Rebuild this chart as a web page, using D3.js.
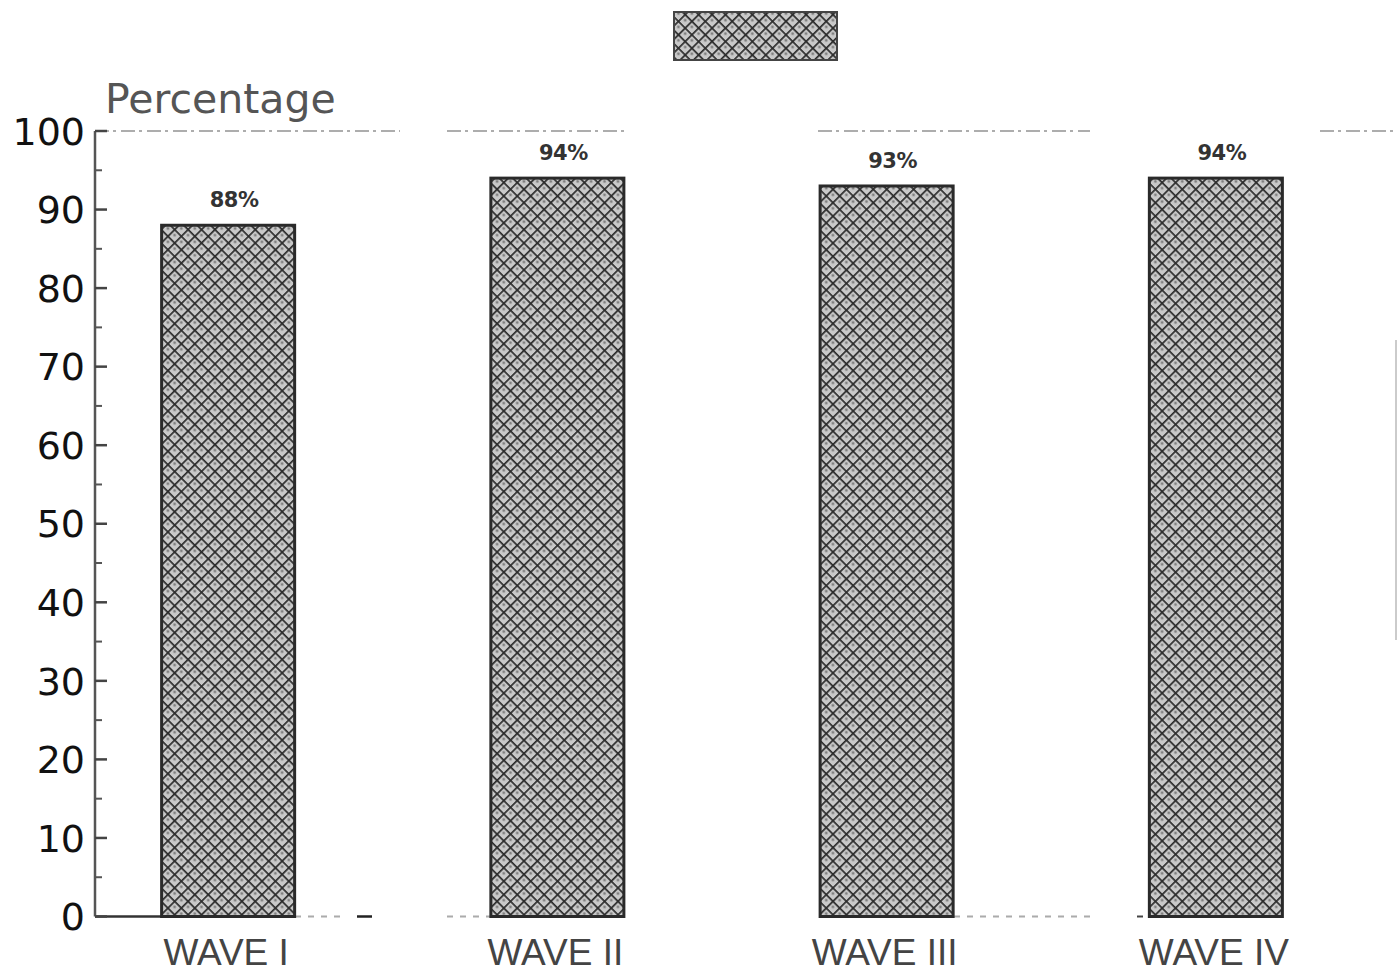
<!DOCTYPE html>
<html>
<head>
<meta charset="utf-8">
<script src="https://cdn.jsdelivr.net/npm/d3@7"></script>
<style>
  html, body { margin: 0; padding: 0; background: #fff; }
  svg { display: block; }
</style>
</head>
<body>
<svg id="chart" width="1398" height="975"></svg>
<script>
// Share of respondents per survey wave
const waves = ["WAVE I", "WAVE II", "WAVE III", "WAVE IV"];
const percents = [88, 94, 93, 94];
const valueLabels = ["88%", "94%", "93%", "94%"];
const yMajorTicks = [0, 10, 20, 30, 40, 50, 60, 70, 80, 90, 100];
const yMinorTicks = [5, 15, 25, 35, 45, 55, 65, 75, 85, 95];

const svg = d3.select("#chart");

const axisX = 95;
const y = d3.scaleLinear().domain([0, 100]).range([916.5, 131]);
const x = d3.scaleBand()
  .domain(waves)
  .range([63.5, 1380.5])
  .paddingInner(0.596)
  .paddingOuter(0.298);

// Cross-hatched fill used by the bars and the legend key
const defs = svg.append("defs");
const pat = defs.append("pattern")
  .attr("id", "hatch")
  .attr("patternUnits", "userSpaceOnUse")
  .attr("width", 9.5).attr("height", 9.5)
  .attr("patternTransform", "rotate(45)");
pat.append("rect").attr("width", 9.5).attr("height", 9.5).attr("fill", "#c9c9c9");
pat.append("circle").attr("cx", 4.75).attr("cy", 4.75).attr("r", 1.5).attr("fill", "#808080");
pat.append("line").attr("x1", 0).attr("y1", 0).attr("x2", 9.5).attr("y2", 0)
  .attr("stroke", "#2b2b2b").attr("stroke-width", 3.4);
pat.append("line").attr("x1", 0).attr("y1", 0).attr("x2", 0).attr("y2", 9.5)
  .attr("stroke", "#2b2b2b").attr("stroke-width", 3.4);

// Legend key (unlabelled swatch)
svg.append("rect")
  .attr("x", 674).attr("y", 12).attr("width", 163).attr("height", 48)
  .attr("fill", "url(#hatch)")
  .attr("stroke", "#444").attr("stroke-width", 2);

// Faint frame line along the 100 level, broken into pieces
const topSegments = [[axisX, 400], [447, 625], [818, 1090], [1320, 1398]];
svg.append("g").selectAll("line").data(topSegments).join("line")
  .attr("x1", d => d[0]).attr("x2", d => d[1])
  .attr("y1", y(100)).attr("y2", y(100))
  .attr("stroke", "#777").attr("stroke-width", 2)
  .attr("stroke-dasharray", "14 4 3 5")
  .attr("opacity", 0.6);

// Faint baseline pieces between the bars
const baseSegments = [[295, 342], [447, 491], [954, 1090]];
svg.append("g").selectAll("line").data(baseSegments).join("line")
  .attr("x1", d => d[0]).attr("x2", d => d[1])
  .attr("y1", y(0)).attr("y2", y(0))
  .attr("stroke", "#888").attr("stroke-width", 2)
  .attr("stroke-dasharray", "6 7")
  .attr("opacity", 0.7);
svg.append("line").attr("x1", 357).attr("x2", 372).attr("y1", y(0)).attr("y2", y(0))
  .attr("stroke", "#222").attr("stroke-width", 2.5);
svg.append("line").attr("x1", 1137).attr("x2", 1143).attr("y1", y(0)).attr("y2", y(0))
  .attr("stroke", "#444").attr("stroke-width", 2);
// Solid baseline from the axis to the first bar
svg.append("line").attr("x1", axisX).attr("x2", x(waves[0])).attr("y1", y(0)).attr("y2", y(0))
  .attr("stroke", "#333").attr("stroke-width", 2.5);

// Faint fragment of the neighbouring panel's axis on the right edge
svg.append("line").attr("x1", 1396).attr("x2", 1396).attr("y1", 340).attr("y2", 640)
  .attr("stroke", "#999").attr("stroke-width", 2).attr("opacity", 0.5);

// Y axis
const yAxis = svg.append("g");
yAxis.append("line")
  .attr("x1", axisX).attr("x2", axisX)
  .attr("y1", y(100)).attr("y2", y(0))
  .attr("stroke", "#555").attr("stroke-width", 2.5);
yAxis.selectAll("line.major").data(yMajorTicks).join("line")
  .attr("class", "major")
  .attr("x1", axisX).attr("x2", axisX + 12)
  .attr("y1", d => y(d)).attr("y2", d => y(d))
  .attr("stroke", "#444").attr("stroke-width", 2.5);
yAxis.selectAll("line.minor").data(yMinorTicks).join("line")
  .attr("class", "minor")
  .attr("x1", axisX).attr("x2", axisX + 7)
  .attr("y1", d => y(d)).attr("y2", d => y(d))
  .attr("stroke", "#555").attr("stroke-width", 2);
yAxis.selectAll("text").data(yMajorTicks).join("text")
  .attr("x", 85)
  .attr("y", d => y(d))
  .attr("dy", "0.36em")
  .attr("text-anchor", "end")
  .attr("font-family", "'DejaVu Sans', sans-serif")
  .attr("font-size", 38)
  .attr("fill", "#111")
  .text(d => d);

// Axis title
svg.append("text")
  .attr("x", 105).attr("y", 113)
  .attr("font-family", "'DejaVu Sans', sans-serif")
  .attr("font-size", 41)
  .attr("fill", "#555")
  .text("Percentage");

// Bars
svg.append("g").selectAll("rect").data(percents).join("rect")
  .attr("x", (d, i) => x(waves[i]))
  .attr("y", d => y(d))
  .attr("width", x.bandwidth())
  .attr("height", d => y(0) - y(d))
  .attr("fill", "url(#hatch)")
  .attr("stroke", "#2a2a2a")
  .attr("stroke-width", 3);

// Value labels above bars
svg.append("g").selectAll("text").data(percents).join("text")
  .attr("x", (d, i) => x(waves[i]) + x.bandwidth() / 2 + 6)
  .attr("y", d => y(d) - 18)
  .attr("text-anchor", "middle")
  .attr("font-family", "'DejaVu Sans', sans-serif")
  .attr("font-weight", "bold")
  .attr("font-size", 21)
  .attr("letter-spacing", -0.5)
  .attr("fill", "#333")
  .text((d, i) => valueLabels[i]);

// Category labels
svg.append("g").selectAll("text").data(waves).join("text")
  .attr("x", d => x(d) + x.bandwidth() / 2 - 2)
  .attr("y", 965)
  .attr("text-anchor", "middle")
  .attr("font-family", "'Liberation Sans', sans-serif")
  .attr("font-size", 37)
  .attr("fill", "#444")
  .text(d => d);
</script>
</body>
</html>
